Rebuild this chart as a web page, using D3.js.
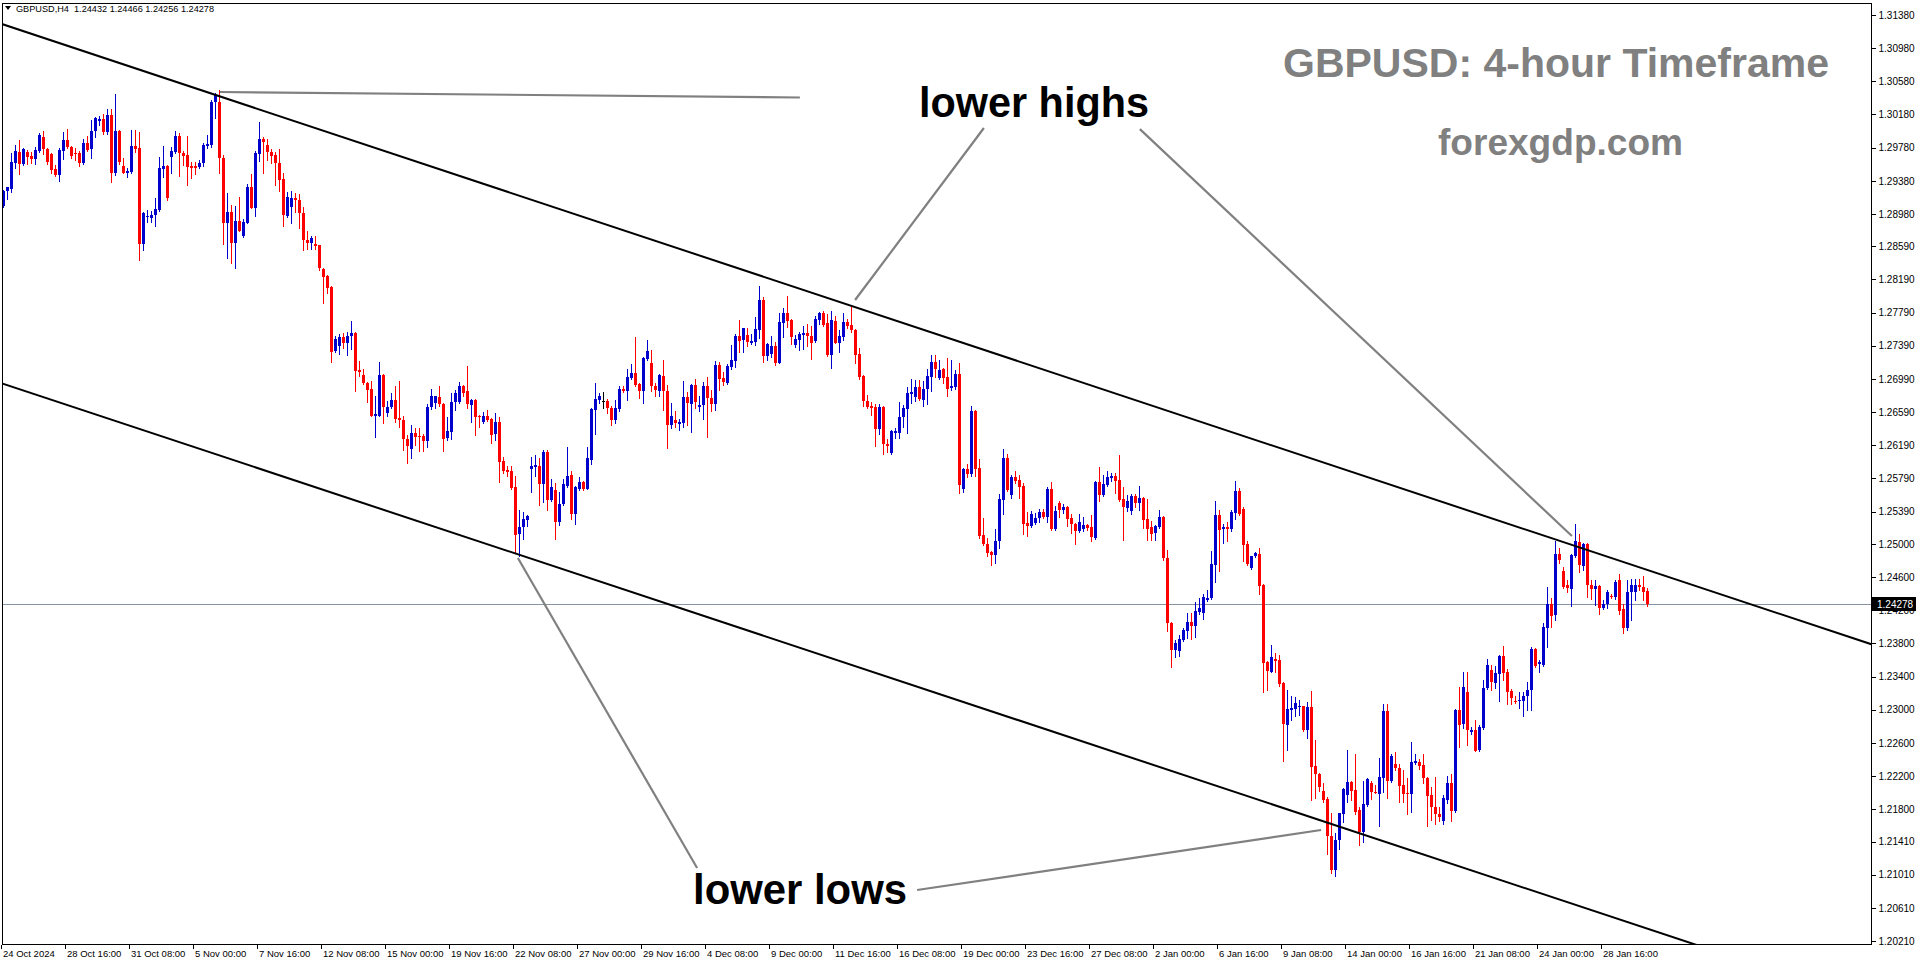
<!DOCTYPE html>
<html><head><meta charset="utf-8">
<script src="https://d3js.org/d3.v7.min.js"></script>
<style>html,body{margin:0;padding:0;background:#fff;overflow:hidden}</style>
</head><body>
<svg id="c" width="1916" height="964"></svg>
<script>
// ---- data (GBPUSD H4, bar 0 = 24 Oct 2024 00:00) ----
const opens=[
1.2908,1.2925,1.2929,1.2960,1.2973,1.2958,1.2973,1.2968,1.2964,1.2974,
1.2991,1.2976,1.2970,1.2952,1.2945,1.2974,1.2987,1.2979,1.2972,1.2972,
1.2960,1.2984,1.2976,1.2998,1.3011,1.3013,1.2996,1.3017,1.2947,1.2998,
1.2956,1.2948,1.2949,1.2980,1.2978,1.2862,1.2894,1.2893,1.2897,1.2903,
1.2952,1.2956,1.2967,1.2973,1.2992,1.2972,1.2969,1.2956,1.2956,1.2954,
1.2959,1.2980,1.2981,1.3032,1.3033,1.2966,1.2887,1.2900,1.2863,1.2890,
1.2871,1.2888,1.2931,1.2906,1.2971,1.2989,1.2981,1.2973,1.2969,1.2959,
1.2940,1.2895,1.2906,1.2917,1.2915,1.2899,1.2867,1.2863,1.2862,1.2860,
1.2832,1.2823,1.2810,1.2732,1.2739,1.2750,1.2743,1.2750,1.2755,1.2710,
1.2704,1.2694,1.2687,1.2655,1.2655,1.2704,1.2658,1.2665,1.2674,1.2652,
1.2649,1.2626,1.2615,1.2634,1.2630,1.2630,1.2624,1.2665,1.2670,1.2677,
1.2669,1.2627,1.2635,1.2671,1.2671,1.2690,1.2684,1.2668,1.2674,1.2654,
1.2647,1.2654,1.2651,1.2632,1.2647,1.2600,1.2589,1.2588,1.2569,1.2511,
1.2520,1.2529,1.2590,1.2593,1.2594,1.2572,1.2611,1.2553,1.2565,1.2526,
1.2548,1.2570,1.2583,1.2536,1.2567,1.2575,1.2567,1.2602,1.2662,1.2674,
1.2672,1.2672,1.2664,1.2650,1.2663,1.2687,1.2684,1.2700,1.2706,1.2693,
1.2684,1.2723,1.2718,1.2690,1.2685,1.2702,1.2684,1.2643,1.2649,1.2645,
1.2646,1.2677,1.2669,1.2692,1.2666,1.2667,1.2690,1.2676,1.2669,1.2716,
1.2700,1.2695,1.2714,1.2721,1.2751,1.2745,1.2752,1.2742,1.2743,1.2758,
1.2794,1.2727,1.2729,1.2739,1.2719,1.2766,1.2778,1.2770,1.2740,1.2746,
1.2752,1.2754,1.2751,1.2744,1.2770,1.2779,1.2766,1.2728,1.2769,1.2743,
1.2750,1.2768,1.2764,1.2758,1.2729,1.2702,1.2672,1.2666,1.2665,1.2639,
1.2665,1.2621,1.2610,1.2634,1.2634,1.2653,1.2663,1.2681,1.2677,1.2689,
1.2674,1.2686,1.2701,1.2719,1.2700,1.2711,1.2701,1.2687,1.2689,1.2705,
1.2566,1.2590,1.2584,1.2660,1.2592,1.2511,1.2500,1.2490,1.2486,1.2503,
1.2553,1.2604,1.2559,1.2581,1.2577,1.2570,1.2525,1.2521,1.2525,1.2531,
1.2538,1.2532,1.2566,1.2518,1.2549,1.2541,1.2545,1.2531,1.2524,1.2515,
1.2518,1.2523,1.2520,1.2507,1.2575,1.2559,1.2571,1.2580,1.2582,1.2577,
1.2554,1.2544,1.2540,1.2558,1.2549,1.2555,1.2530,1.2520,1.2512,1.2520,
1.2532,1.2483,1.2405,1.2372,1.2371,1.2384,1.2395,1.2406,1.2401,1.2418,
1.2417,1.2432,1.2435,1.2475,1.2535,1.2517,1.2520,1.2518,1.2538,1.2564,
1.2542,1.2500,1.2471,1.2485,1.2488,1.2450,1.2357,1.2346,1.2361,1.2360,
1.2332,1.2282,1.2300,1.2301,1.2304,1.2304,1.2275,1.2303,1.2232,1.2222,
1.2202,1.2192,1.2148,1.2107,1.2142,1.2174,1.2197,1.2213,1.2203,1.2179,
1.2152,1.2185,1.2211,1.2201,1.2199,1.2218,1.2299,1.2214,1.2234,1.2230,
1.2209,1.2199,1.2198,1.2236,1.2237,1.2233,1.2218,1.2197,1.2183,1.2174,
1.2166,1.2192,1.2212,1.2178,1.2300,1.2282,1.2321,1.2274,1.2276,1.2251,
1.2278,1.2326,1.2348,1.2332,1.2343,1.2365,1.2345,1.2323,1.2311,1.2311,
1.2311,1.2317,1.2323,1.2373,1.2355,1.2354,1.2399,1.2428,1.2414,1.2488,
1.2467,1.2450,1.2446,1.2485,1.2502,1.2474,1.2500,1.2450,1.2445,1.2449,
1.2423,1.2428,1.2437,1.2436,1.2456,1.2421,1.2398,1.2442,1.2442,1.2450,
1.2448,1.24432];
const highs=[
1.2927,1.2931,1.2972,1.2981,1.2987,1.2978,1.2975,1.2973,1.2979,1.2996,
1.2998,1.2977,1.2971,1.2957,1.2977,1.2997,1.3001,1.2980,1.2977,1.2974,
1.2989,1.2992,1.3011,1.3015,1.3016,1.3019,1.3025,1.3025,1.3043,1.2999,
1.2966,1.2954,1.2999,1.2999,1.2997,1.2900,1.2903,1.2902,1.2917,1.2967,
1.2980,1.2957,1.2979,1.2998,1.2996,1.2974,1.2992,1.2961,1.2961,1.2963,
1.2984,1.2993,1.3035,1.3044,1.3048,1.2969,1.2923,1.2909,1.2908,1.2919,
1.2892,1.2934,1.2946,1.2974,1.3009,1.2991,1.2988,1.2976,1.2973,1.2976,
1.2947,1.2925,1.2926,1.2923,1.2922,1.2907,1.2877,1.2871,1.2872,1.2861,
1.2833,1.2824,1.2811,1.2751,1.2753,1.2754,1.2756,1.2769,1.2756,1.2721,
1.2711,1.2695,1.2696,1.2679,1.2719,1.2705,1.2672,1.2682,1.2690,1.2696,
1.2654,1.2631,1.2643,1.2640,1.2640,1.2633,1.2669,1.2687,1.2679,1.2690,
1.2670,1.2653,1.2682,1.2686,1.2695,1.2692,1.2714,1.2675,1.2675,1.2655,
1.2659,1.2661,1.2652,1.2658,1.2653,1.2605,1.2594,1.2594,1.2582,1.2541,
1.2538,1.2535,1.2605,1.2607,1.2604,1.2613,1.2613,1.2578,1.2573,1.2563,
1.2578,1.2617,1.2588,1.2570,1.2581,1.2576,1.2617,1.2664,1.2694,1.2682,
1.2683,1.2675,1.2666,1.2674,1.2690,1.2690,1.2711,1.2717,1.2750,1.2694,
1.2725,1.2746,1.2734,1.2694,1.2705,1.2722,1.2692,1.2670,1.2660,1.2651,
1.2696,1.2683,1.2693,1.2699,1.2678,1.2695,1.2701,1.2686,1.2721,1.2719,
1.2707,1.2717,1.2740,1.2753,1.2770,1.2761,1.2761,1.2753,1.2774,1.2811,
1.2798,1.2742,1.2751,1.2743,1.2778,1.2784,1.2799,1.2771,1.2752,1.2756,
1.2763,1.2765,1.2763,1.2775,1.2780,1.2781,1.2777,1.2781,1.2775,1.2758,
1.2778,1.2771,1.2787,1.2759,1.2736,1.2704,1.2680,1.2671,1.2669,1.2669,
1.2666,1.2626,1.2637,1.2640,1.2671,1.2668,1.2689,1.2699,1.2698,1.2698,
1.2697,1.2711,1.2728,1.2728,1.2722,1.2712,1.2724,1.2722,1.2710,1.2718,
1.2591,1.2596,1.2666,1.2661,1.2602,1.2531,1.2507,1.2492,1.2518,1.2560,
1.2614,1.2608,1.2583,1.2588,1.2583,1.2573,1.2538,1.2540,1.2537,1.2542,
1.2542,1.2569,1.2575,1.2546,1.2552,1.2548,1.2546,1.2536,1.2525,1.2536,
1.2533,1.2524,1.2535,1.2576,1.2593,1.2583,1.2588,1.2586,1.2585,1.2607,
1.2569,1.2559,1.2560,1.2560,1.2570,1.2556,1.2554,1.2528,1.2523,1.2541,
1.2534,1.2493,1.2406,1.2384,1.2390,1.2398,1.2417,1.2417,1.2430,1.2435,
1.2440,1.2444,1.2491,1.2552,1.2541,1.2524,1.2527,1.2541,1.2576,1.2568,
1.2545,1.2503,1.2486,1.2490,1.2495,1.2452,1.2359,1.2378,1.2368,1.2366,
1.2333,1.2324,1.2317,1.2315,1.2312,1.2305,1.2309,1.2323,1.2263,1.2224,
1.2212,1.2195,1.2175,1.2151,1.2176,1.2205,1.2251,1.2214,1.2247,1.2183,
1.2214,1.2218,1.2214,1.2209,1.2242,1.2307,1.2307,1.2246,1.2249,1.2234,
1.2227,1.2218,1.2261,1.2247,1.2241,1.2246,1.2219,1.2207,1.2219,1.2183,
1.2197,1.2220,1.2222,1.2301,1.2327,1.2346,1.2346,1.2279,1.2288,1.2281,
1.2336,1.2361,1.2354,1.2353,1.2366,1.2377,1.2349,1.2325,1.2316,1.2321,
1.2321,1.2334,1.2376,1.2374,1.2360,1.2405,1.2448,1.2435,1.2503,1.2495,
1.2472,1.2456,1.2488,1.2524,1.2512,1.2501,1.2501,1.2456,1.2456,1.2450,
1.2432,1.2445,1.2439,1.2456,1.2464,1.2428,1.2456,1.2458,1.2458,1.2458,
1.2461,1.24466];
const lows=[
1.2907,1.2916,1.2925,1.2954,1.2946,1.2957,1.2958,1.2959,1.2958,1.2973,
1.2970,1.2958,1.2948,1.2944,1.2938,1.2964,1.2977,1.2965,1.2963,1.2956,
1.2958,1.2974,1.2966,1.2991,1.3005,1.2994,1.2995,1.2936,1.2945,1.2958,
1.2947,1.2942,1.2947,1.2973,1.2843,1.2854,1.2888,1.2888,1.2883,1.2902,
1.2943,1.2915,1.2948,1.2971,1.2944,1.2957,1.2933,1.2941,1.2946,1.2953,
1.2956,1.2977,1.2979,1.3014,1.2948,1.2862,1.2845,1.2839,1.2833,1.2877,
1.2870,1.2887,1.2905,1.2895,1.2962,1.2947,1.2963,1.2960,1.2933,1.2926,
1.2883,1.2894,1.2887,1.2900,1.2881,1.2854,1.2856,1.2856,1.2856,1.2830,
1.2791,1.2803,1.2719,1.2731,1.2729,1.2736,1.2728,1.2735,1.2685,1.2702,
1.2693,1.2671,1.2654,1.2629,1.2654,1.2646,1.2654,1.2664,1.2647,1.2641,
1.2613,1.2597,1.2604,1.2619,1.2612,1.2612,1.2617,1.2663,1.2664,1.2666,
1.2612,1.2625,1.2627,1.2661,1.2670,1.2679,1.2664,1.2647,1.2631,1.2641,
1.2646,1.2648,1.2622,1.2625,1.2575,1.2586,1.2582,1.2566,1.2489,1.2485,
1.2506,1.2521,1.2563,1.2582,1.2547,1.2551,1.2541,1.2552,1.2506,1.2523,
1.2547,1.2569,1.2530,1.2524,1.2565,1.2565,1.2566,1.2596,1.2632,1.2670,
1.2664,1.2658,1.2643,1.2646,1.2660,1.2683,1.2674,1.2699,1.2690,1.2676,
1.2670,1.2722,1.2685,1.2678,1.2679,1.2661,1.2616,1.2640,1.2641,1.2638,
1.2641,1.2643,1.2635,1.2664,1.2660,1.2651,1.2629,1.2660,1.2662,1.2686,
1.2692,1.2693,1.2711,1.2713,1.2731,1.2731,1.2739,1.2741,1.2740,1.2748,
1.2719,1.2722,1.2726,1.2716,1.2718,1.2750,1.2762,1.2741,1.2737,1.2734,
1.2735,1.2739,1.2723,1.2743,1.2765,1.2763,1.2727,1.2712,1.2742,1.2731,
1.2746,1.2761,1.2756,1.2718,1.2699,1.2666,1.2664,1.2655,1.2618,1.2633,
1.2608,1.2611,1.2608,1.2628,1.2628,1.2641,1.2634,1.2670,1.2672,1.2673,
1.2666,1.2669,1.2684,1.2701,1.2699,1.2694,1.2678,1.2686,1.2687,1.2561,
1.2563,1.2581,1.2582,1.2582,1.2507,1.2499,1.2485,1.2475,1.2477,1.2495,
1.2536,1.2564,1.2555,1.2573,1.2555,1.2512,1.2509,1.2520,1.2524,1.2527,
1.2531,1.2526,1.2517,1.2517,1.2533,1.2537,1.2521,1.2513,1.2500,1.2514,
1.2515,1.2517,1.2504,1.2506,1.2552,1.2558,1.2570,1.2576,1.2561,1.2552,
1.2505,1.2540,1.2536,1.2544,1.2541,1.2519,1.2505,1.2505,1.2505,1.2519,
1.2481,1.2395,1.2352,1.2364,1.2365,1.2383,1.2387,1.2385,1.2388,1.2415,
1.2410,1.2431,1.2434,1.2454,1.2467,1.2501,1.2503,1.2516,1.2530,1.2535,
1.2479,1.2475,1.2470,1.2484,1.2440,1.2321,1.2324,1.2345,1.2346,1.2329,
1.2238,1.2251,1.2287,1.2292,1.2294,1.2274,1.2266,1.2191,1.2193,1.2202,
1.2189,1.2126,1.2103,1.2099,1.2132,1.2164,1.2189,1.2191,1.2174,1.2137,
1.2140,1.2184,1.2192,1.2199,1.2160,1.2201,1.2194,1.2213,1.2227,1.2189,
1.2189,1.2174,1.2177,1.2235,1.2229,1.2212,1.2160,1.2167,1.2162,1.2166,
1.2162,1.2187,1.2166,1.2177,1.2255,1.2278,1.2258,1.2271,1.2250,1.2250,
1.2277,1.2325,1.2324,1.2326,1.2310,1.2336,1.2307,1.2307,1.2308,1.2302,
1.2292,1.2300,1.2300,1.2351,1.2345,1.2353,1.2376,1.2400,1.2408,1.2477,
1.2447,1.2442,1.2425,1.2484,1.2466,1.2468,1.2436,1.2433,1.2426,1.2415,
1.2421,1.2423,1.2435,1.2434,1.2416,1.2393,1.2396,1.2408,1.2432,1.2444,
1.2432,1.24256];
const closes=[
1.2926,1.2930,1.2961,1.2974,1.2958,1.2976,1.2967,1.2964,1.2975,1.2993,
1.2976,1.2960,1.2951,1.2945,1.2975,1.2987,1.2978,1.2968,1.2971,1.2960,
1.2984,1.2976,1.2998,1.3014,1.3013,1.2997,1.3017,1.2947,1.2998,1.2961,
1.2948,1.2950,1.2980,1.2976,1.2862,1.2899,1.2895,1.2897,1.2904,1.2954,
1.2956,1.2917,1.2974,1.2992,1.2971,1.2968,1.2955,1.2954,1.2954,1.2959,
1.2981,1.2982,1.3033,1.3041,1.2966,1.2887,1.2900,1.2863,1.2890,1.2878,
1.2888,1.2931,1.2906,1.2972,1.2989,1.2985,1.2972,1.2968,1.2959,1.2939,
1.2896,1.2918,1.2917,1.2914,1.2899,1.2866,1.2863,1.2869,1.2860,1.2832,
1.2822,1.2809,1.2732,1.2747,1.2750,1.2743,1.2751,1.2754,1.2709,1.2707,
1.2694,1.2686,1.2655,1.2657,1.2704,1.2665,1.2665,1.2674,1.2651,1.2650,
1.2626,1.2617,1.2634,1.2629,1.2629,1.2624,1.2665,1.2678,1.2678,1.2668,
1.2627,1.2636,1.2671,1.2682,1.2690,1.2682,1.2668,1.2674,1.2653,1.2653,
1.2654,1.2649,1.2632,1.2647,1.2599,1.2588,1.2587,1.2567,1.2511,1.2520,
1.2530,1.2534,1.2594,1.2595,1.2572,1.2611,1.2553,1.2569,1.2526,1.2548,
1.2572,1.2582,1.2536,1.2569,1.2575,1.2567,1.2604,1.2663,1.2675,1.2679,
1.2672,1.2663,1.2650,1.2664,1.2687,1.2685,1.2701,1.2706,1.2692,1.2685,
1.2724,1.2733,1.2690,1.2685,1.2704,1.2684,1.2643,1.2654,1.2645,1.2647,
1.2677,1.2670,1.2692,1.2671,1.2668,1.2690,1.2675,1.2669,1.2716,1.2699,
1.2695,1.2715,1.2722,1.2751,1.2745,1.2760,1.2743,1.2745,1.2759,1.2794,
1.2727,1.2741,1.2739,1.2719,1.2768,1.2778,1.2768,1.2750,1.2747,1.2753,
1.2754,1.2750,1.2743,1.2771,1.2778,1.2764,1.2728,1.2770,1.2743,1.2751,
1.2768,1.2763,1.2758,1.2728,1.2701,1.2672,1.2665,1.2663,1.2639,1.2665,
1.2620,1.2618,1.2636,1.2636,1.2653,1.2664,1.2682,1.2683,1.2689,1.2674,
1.2687,1.2702,1.2719,1.2711,1.2710,1.2700,1.2687,1.2690,1.2705,1.2571,
1.2590,1.2584,1.2660,1.2590,1.2510,1.2500,1.2489,1.2486,1.2503,1.2554,
1.2604,1.2565,1.2581,1.2576,1.2569,1.2524,1.2521,1.2536,1.2531,1.2538,
1.2532,1.2566,1.2518,1.2540,1.2541,1.2545,1.2530,1.2524,1.2516,1.2526,
1.2523,1.2519,1.2508,1.2575,1.2559,1.2572,1.2581,1.2582,1.2576,1.2553,
1.2544,1.2552,1.2558,1.2549,1.2555,1.2528,1.2518,1.2511,1.2521,1.2532,
1.2482,1.2404,1.2372,1.2380,1.2385,1.2396,1.2406,1.2401,1.2419,1.2423,
1.2436,1.2435,1.2476,1.2535,1.2517,1.2520,1.2517,1.2539,1.2564,1.2536,
1.2499,1.2476,1.2485,1.2489,1.2450,1.2356,1.2346,1.2364,1.2359,1.2331,
1.2282,1.2301,1.2302,1.2308,1.2305,1.2275,1.2303,1.2231,1.2222,1.2206,
1.2191,1.2147,1.2107,1.2143,1.2175,1.2204,1.2213,1.2202,1.2177,1.2153,
1.2186,1.2216,1.2200,1.2200,1.2219,1.2299,1.2214,1.2244,1.2229,1.2208,
1.2198,1.2198,1.2237,1.2238,1.2232,1.2217,1.2196,1.2182,1.2174,1.2170,
1.2194,1.2212,1.2178,1.2300,1.2282,1.2327,1.2275,1.2276,1.2251,1.2279,
1.2326,1.2354,1.2333,1.2344,1.2365,1.2344,1.2321,1.2315,1.2310,1.2312,
1.2317,1.2324,1.2373,1.2352,1.2357,1.2400,1.2428,1.2414,1.2488,1.2481,
1.2448,1.2446,1.2487,1.2503,1.2474,1.2500,1.2450,1.2445,1.2449,1.2423,
1.2428,1.2442,1.2436,1.2454,1.2419,1.2398,1.2442,1.2450,1.2451,1.2448,
1.2442,1.24278];

const priceTicks=[1.31380,1.30980,1.30580,1.30180,1.29780,1.29380,1.28980,1.28590,1.28190,1.27790,
1.27390,1.26990,1.26590,1.26190,1.25790,1.25390,1.25000,1.24600,1.24200,1.23800,1.23400,1.23000,
1.22600,1.22200,1.21800,1.21410,1.21010,1.20610,1.20210];
const timeLabels=["24 Oct 2024","28 Oct 16:00","31 Oct 08:00","5 Nov 00:00","7 Nov 16:00","12 Nov 08:00",
"15 Nov 00:00","19 Nov 16:00","22 Nov 08:00","27 Nov 00:00","29 Nov 16:00","4 Dec 08:00","9 Dec 00:00",
"11 Dec 16:00","16 Dec 08:00","19 Dec 00:00","23 Dec 16:00","27 Dec 08:00","2 Jan 00:00","6 Jan 16:00",
"9 Jan 08:00","14 Jan 00:00","16 Jan 16:00","21 Jan 08:00","24 Jan 00:00","28 Jan 16:00"];
const timeLabelBars=[0,16,32,48,64,80,96,112,128,144,160,176,192,208,224,240,256,272,288,304,320,336,352,368,384,400];
const headerText="GBPUSD,H4  1.24432 1.24466 1.24256 1.24278";
const lastPrice=1.24278;
// trend channel anchors: [bar index, price]
const upperChannel=[[41.75,1.30596],[415.5,1.24613]];
const lowerChannel=[[58.75,1.25991],[366.75,1.21066]];
// pointer lines: [bar index, price]
const pointerLines=[
 [[54.1,1.30451],[199.1,1.30385]],
 [[212.9,1.27942],[245.1,1.30017]],
 [[284.1,1.30003],[392.1,1.25095]],
 [[128.6,1.2483],[173.4,1.2109]],
 [[228.4,1.20825],[329.4,1.21549]]
];
const titleText="GBPUSD: 4-hour Timeframe";
const siteText="forexgdp.com";
const highsLabel="lower highs";
const lowsLabel="lower lows";

// ---- drawing ----
const svg=d3.select("#c");
const L=2,R=1871,T=3,B=944;
const x=d3.scaleLinear().domain([0,1]).range([3.5,7.5]);
const y=d3.scaleLinear().domain([1.3138,1.2021]).range([15,941]);

svg.append("rect").attr("width",1916).attr("height",964).attr("fill","#fff");
svg.append("defs").append("clipPath").attr("id","plot")
  .append("rect").attr("x",L+1).attr("y",T+1).attr("width",R-L-1).attr("height",B-T-1);

const plot=svg.append("g").attr("clip-path","url(#plot)");

// last price line
plot.append("line").attr("x1",L).attr("x2",R).attr("y1",Math.round(y(lastPrice))+0.5).attr("y2",Math.round(y(lastPrice))+0.5)
  .attr("stroke","#8794a3").attr("stroke-width",1);

// candles
const idx=d3.range(opens.length);
const col=i=>closes[i]>opens[i]?"#0000cd":(closes[i]<opens[i]?"#ff0000":"#000000");
const cg=plot.append("g");
cg.selectAll("line.w").data(idx).join("line").attr("class","w")
  .attr("x1",i=>x(i)).attr("x2",i=>x(i))
  .attr("y1",i=>Math.round(y(highs[i]))).attr("y2",i=>Math.round(y(lows[i]))+1)
  .attr("stroke",col).attr("stroke-width",1).attr("shape-rendering","crispEdges");
cg.selectAll("rect.b").data(idx).join("rect").attr("class","b")
  .attr("x",i=>x(i)-1.5).attr("width",3)
  .attr("y",i=>Math.round(y(Math.max(opens[i],closes[i]))))
  .attr("height",i=>Math.max(1,Math.round(Math.abs(y(opens[i])-y(closes[i])))))
  .attr("fill",col).attr("shape-rendering","crispEdges");

// channel lines
function ext(pts,a,b){
  const [i1,p1]=pts[0],[i2,p2]=pts[1];
  const s=(p2-p1)/(i2-i1);
  return [[a,p1+s*(a-i1)],[b,p1+s*(b-i1)]];
}
const lineGen=d3.line().x(d=>x(d[0])).y(d=>y(d[1]));
[upperChannel,lowerChannel].forEach(c=>{
  plot.append("path").attr("d",lineGen(ext(c,-5,480))).attr("fill","none")
    .attr("stroke","#000").attr("stroke-width",2);
});
pointerLines.forEach(p=>{
  plot.append("path").attr("d",lineGen(p)).attr("fill","none")
    .attr("stroke","#808080").attr("stroke-width",2.2);
});

// texts
const tf="'Liberation Sans', Arial, sans-serif";
function txt(s,xx,yy,size,color,len){
  svg.append("text").attr("x",xx).attr("y",yy).text(s)
    .attr("font-family",tf).attr("font-weight","bold").attr("font-size",size)
    .attr("fill",color).attr("textLength",len).attr("lengthAdjust","spacingAndGlyphs");
}
txt(titleText,1283,77,41,"#808080",546);
txt(siteText,1438,155,37,"#808080",245);
txt(highsLabel,919,117,42,"#000",230);
txt(lowsLabel,693,904,42,"#000",214);

// header
svg.append("path").attr("d","M5,6 L11,6 L8,10 Z").attr("fill","#000");
svg.append("text").attr("x",16).attr("y",12).text(headerText)
  .attr("font-family",tf).attr("font-size",9.5).attr("fill","#000")
  .attr("textLength",198).attr("lengthAdjust","spacingAndGlyphs").attr("xml:space","preserve");

// right axis
const ya=svg.append("g").attr("transform",`translate(${R+0.5},0)`)
  .call(d3.axisRight(y).tickValues(priceTicks).tickSize(4).tickFormat(d=>d.toFixed(5)));
ya.select(".domain").remove();
ya.selectAll("line").attr("stroke","#000").attr("shape-rendering","crispEdges");
ya.selectAll("text").attr("x",7).attr("font-family",tf).attr("font-size",10).attr("fill","#000");

// bottom axis
const xa=svg.append("g").attr("transform",`translate(-3,${B+0.5})`)
  .call(d3.axisBottom(x).tickValues(timeLabelBars).tickSize(4).tickFormat((d,i)=>timeLabels[i]));
xa.select(".domain").remove();
xa.selectAll("line").attr("stroke","#000").attr("shape-rendering","crispEdges");
xa.selectAll("text").attr("text-anchor","start").attr("x",2).attr("y",6)
  .attr("font-family",tf).attr("font-size",9.5).attr("fill","#000");

// frame
const fr=svg.append("g").attr("stroke","#000").attr("stroke-width",1).attr("shape-rendering","crispEdges");
fr.append("line").attr("x1",L+0.5).attr("x2",L+0.5).attr("y1",T).attr("y2",B+1);
fr.append("line").attr("x1",L).attr("x2",R+1).attr("y1",T+0.5).attr("y2",T+0.5);
fr.append("line").attr("x1",R+0.5).attr("x2",R+0.5).attr("y1",T).attr("y2",B+1);
fr.append("line").attr("x1",L).attr("x2",R+1).attr("y1",B+0.5).attr("y2",B+0.5);

// last price tag
const ly=y(lastPrice);
svg.append("rect").attr("x",R+1).attr("y",Math.round(ly)-7).attr("width",44).attr("height",14).attr("fill","#000");
svg.append("text").attr("x",R+6).attr("y",Math.round(ly)+4).text(lastPrice.toFixed(5))
  .attr("font-family",tf).attr("font-size",10).attr("fill","#fff");
</script>
</body></html>
